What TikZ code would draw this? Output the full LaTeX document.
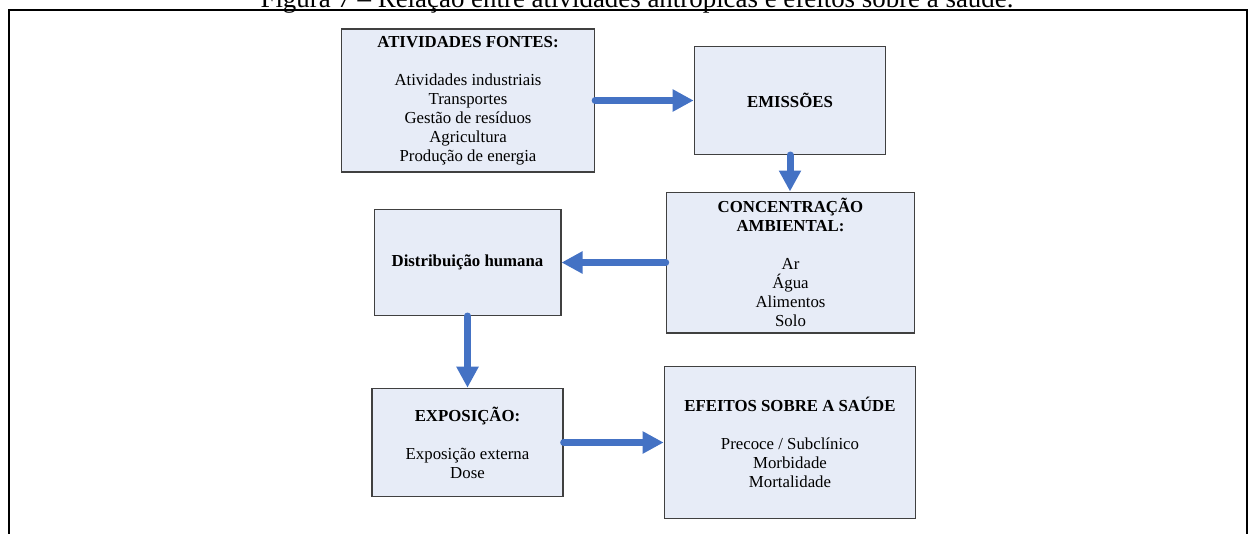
\documentclass[tikz,border=0pt]{standalone}
\usepackage{fontspec}
\setmainfont{Liberation Serif}
\usetikzlibrary{arrows.meta}
\definecolor{boxfill}{RGB}{231,236,247}
\definecolor{boxline}{RGB}{64,64,64}
\definecolor{flowblue}{RGB}{68,114,196}

\begin{document}
\begin{tikzpicture}[x=1pt,y=-1pt,
  box/.style={draw=boxline, line width=1.3pt, fill=boxfill, align=center,
    inner sep=0pt, font=\fontsize{16.8}{19}\selectfont},
  flow/.style={draw=flowblue, line width=7pt, line cap=round,
    -{Triangle[length=21pt,width=21pt]}}]
\useasboundingbox (0,0) rectangle (1250,533);

% caption above the frame
\node[anchor=base, font=\fontsize{26.9}{30}\selectfont] (title) at (637,7)
  {Figura 7 – Relação entre atividades antrópicas e efeitos sobre a saúde.};

% open frame
\draw[line width=2pt] (8.5,545) -- (8.5,10) -- (1247,10) -- (1247,545);

% boxes
\node[box, minimum width=253pt, minimum height=143pt] (atv) at (468,100.5)
  {\textbf{ATIVIDADES FONTES:}\\[19pt]
   Atividades industriais\\ Transportes\\ Gestão de resíduos\\
   Agricultura\\ Produção de energia};
\node[box, minimum width=191.4pt, minimum height=107.7pt] (emi) at (790,100.5)
  {\textbf{EMISSÕES}};
\node[box, minimum width=248.3pt, minimum height=140.7pt] (conc) at (790.5,262.5)
  {\textbf{CONCENTRAÇÃO}\\ \textbf{AMBIENTAL:}\\[19pt]
   Ar\\ Água\\ Alimentos\\ Solo};
\node[box, minimum width=186.7pt, minimum height=105.7pt] (dist) at (467.5,262.5)
  {\textbf{Distribuição humana}};
\node[box, minimum width=191pt, minimum height=108.3pt] (expo) at (467.5,442.5)
  {\textbf{EXPOSIÇÃO:}\\[19pt] Exposição externa\\ Dose};
\node[box, minimum width=251.4pt, minimum height=151.7pt] (efe) at (790,442.5)
  {\textbf{EFEITOS SOBRE A SAÚDE}\\[19pt]
   Precoce / Subclínico\\ Morbidade\\ Mortalidade};

% flow arrows
\draw[flow] (atv.east) -- (emi.west);
\draw[flow] (emi.south) -- (emi.south |- conc.north);
\draw[flow] (conc.west) -- (dist.east);
\draw[flow] (dist.south) -- (expo.north);
\draw[flow] (expo.east) -- (efe.west);
\end{tikzpicture}
\end{document}
